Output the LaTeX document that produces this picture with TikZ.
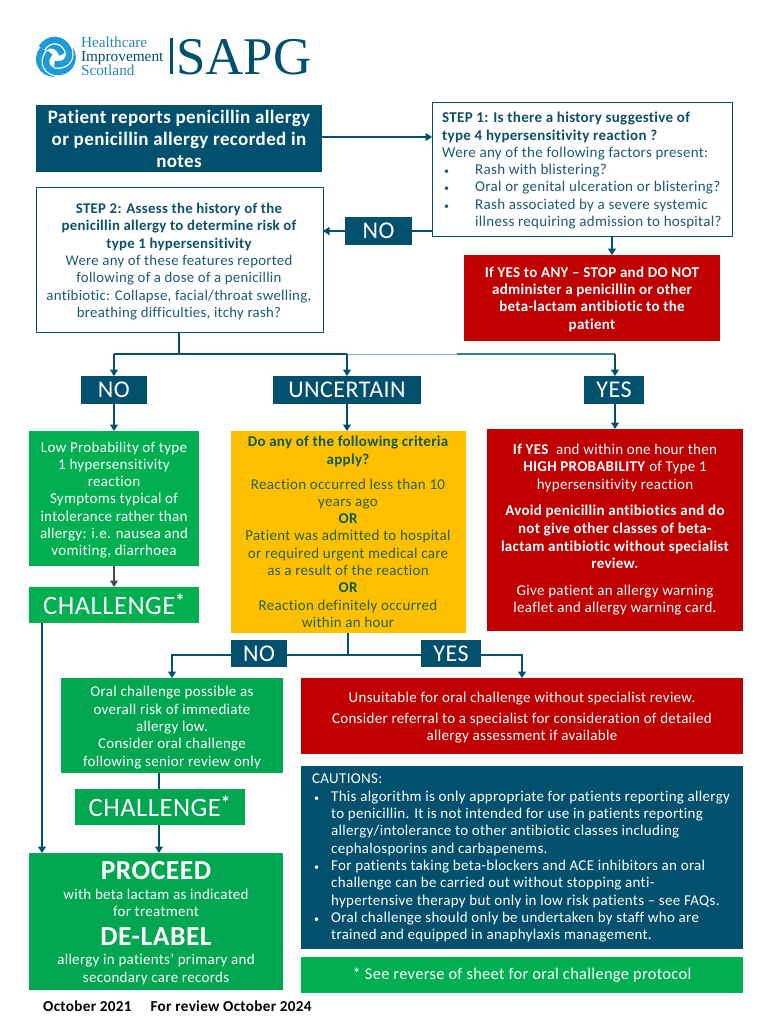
\documentclass[tikz,border=0pt]{standalone}
\usepackage{fontspec}
\setmainfont{Carlito}[LetterSpace=2,Ligatures=NoCommon]
\newfontfamily\logofont{Liberation Serif}
\usetikzlibrary{arrows.meta}
\definecolor{teal}{HTML}{00506E}
\definecolor{ink}{HTML}{1C5A72}
\definecolor{inkb}{HTML}{0F5068}
\definecolor{gr}{HTML}{00B050}
\definecolor{grd}{HTML}{00A650}
\definecolor{amb}{HTML}{FFC000}
\definecolor{ambink}{HTML}{2A6238}
\definecolor{ambinkb}{HTML}{0F5A4C}
\definecolor{rd}{HTML}{C00000}
\definecolor{sky}{HTML}{1E9AD8}
\definecolor{logob}{HTML}{2A86B4}
\definecolor{pale}{HTML}{7FAABC}
\tikzset{
 x=1pt,y=-1pt,
 flow/.style={draw=teal,line width=1.3pt,-{Triangle[length=6.5pt,width=8pt]}},
 plain/.style={draw=teal,line width=1.3pt},
 box/.style={inner sep=0pt,outer sep=0pt,anchor=north west,align=center},
 body/.style={font=\fontsize{15}{17.3}\selectfont,align=center,anchor=center,inner sep=0pt},
 lab/.style={body,text=white,font=\fontsize{24}{26}\selectfont},
 chal/.style={body,text=white,font=\fontsize{26.5}{30}\selectfont},
 big/.style={body,text=white,font=\bfseries\fontsize{27.5}{30}\selectfont},
}
\newcommand{\bx}[6]{\node[box,minimum width=#3-#1,minimum height=#4-#2,#5] (#6) at (#1,#2) {};}
\newcommand{\blt}[1]{\mbox{\hspace{2pt}\makebox[#1][l]{\fontsize{10}{17.3}\selectfont •}}}
\newcommand{\ind}[1]{\mbox{\hspace{#1}}}
\newcommand{\chalstar}{\raisebox{7pt}{\fontsize{19}{19}\selectfont\bfseries *}}
\begin{document}
\begin{tikzpicture}
\useasboundingbox (0,0) rectangle (768,1024);
\fill[white] (0,0) rectangle (768,1024);
% logo
\foreach \a in {0,120,240,0}{
\begin{scope}[shift={(55.5,57)},rotate=\a]
  \draw[white,line width=9pt] (-14,-9) .. controls (-8,-20) and (8,-20) .. (13,-7) .. controls (16,3) and (8,9) .. (-1,7);
  \draw[sky,line width=6.5pt] (-14,-9) .. controls (-8,-20) and (8,-20) .. (13,-7) .. controls (16,3) and (8,9) .. (-1,7);
\end{scope}}
\node[box,anchor=west,text=logob,font=\logofont\fontsize{15.3}{13.6}\selectfont,align=left] (hi) at (81,56.5) {Healthcare\\{\color{teal}Improvement}\\Scotland};
\fill[teal] (170,38) rectangle (173,74);
\node[box,anchor=west,text=teal,font=\logofont\fontsize{53}{53}\selectfont] (sapg) at (176,57) {SAPG};
% boxes
\bx{36}{105}{322}{172}{fill=teal}{head}
\bx{36}{188}{323}{332}{draw=teal,line width=1pt}{stwo}
\bx{432}{103}{732}{236}{draw=teal,line width=1pt}{sone}
\bx{464}{255}{720}{341}{fill=rd}{redone}
\bx{345}{217}{412}{245}{fill=teal}{noone}
\bx{81}{376}{146.5}{404}{fill=teal}{notwo}
\bx{273}{376}{421}{404}{fill=teal}{unc}
\bx{584}{376}{644}{404}{fill=teal}{yesone}
\bx{29}{431}{199}{566}{fill=gr}{low}
\bx{29}{587}{199}{623}{fill=gr}{chone}
\bx{231}{431}{466}{633}{fill=amb}{amber}
\bx{487}{429}{743}{631}{fill=rd}{redbig}
\bx{231}{640}{287}{667}{fill=teal}{nothree}
\bx{421}{640}{481}{667}{fill=teal}{yestwo}
\bx{61}{678}{283}{773}{fill=grd}{oral}
\bx{75}{789}{245}{825}{fill=grd}{chtwo}
\bx{29}{853}{283}{990}{fill=grd}{proceed}
\bx{301}{678}{743}{754}{fill=rd}{redtwo}
\bx{301}{766}{743}{949}{fill=teal}{cautions}
\bx{301}{957}{743}{993}{fill=gr}{note}
% coordinates
\coordinate (j) at (179,354);
\coordinate (jl) at (114,354);
\coordinate (jm) at (347,354);
\coordinate (jp) at (457,354);
\coordinate (jr) at (615,354);
\coordinate (k) at (348,655);
\coordinate (kl) at (172,655);
\coordinate (kr) at (522,655);
% connectors
\draw[flow] (head.east|-0,137) -- (sone.west|-0,137);
\draw[plain] (sone.west|-0,231) -- (noone.east|-0,231);
\draw[flow] (noone.west|-0,231) -- (stwo.east|-0,231);
\draw[flow] (612,236) -- (612,255);
\draw[plain] (179,332) -- (j);
\draw[plain] (jl) -- (jm);
\draw[draw=pale,line width=1pt] (jm) -- (jp);
\draw[draw=teal!75,line width=1.1pt] (jp) -- (jr);
\draw[flow] (jl) -- (114,376);
\draw[flow] (jm) -- (347,376);
\draw[flow] (jr) -- (615,376);
\draw[flow] (114,404) -- (114,431);
\draw[flow] (347,404) -- (347,431);
\draw[flow] (615,404) -- (615,429);
\draw[flow,draw=black!70] (114,566) -- (114,587);
\draw[flow] (42,623) -- (42,853);
\draw[plain] (348,633) -- (k);
\draw[plain] (nothree.east|-k) -- (yestwo.west|-k);
\draw[flow] (yestwo.east|-k) -- (kr) -- (522,678);
\draw[flow] (nothree.west|-k) -- (kl) -- (172,678);
\draw[plain] (159,773) -- (159,789);
\draw[flow] (159,825) -- (159,853);
% labels
\node[body,text=white,font=\bfseries\fontsize{19}{22.2}\selectfont] (thead) at (179,139) {Patient reports penicillin allergy\\or penicillin allergy recorded in\\notes};
\node[body,text=ink,font=\fontsize{14.8}{17.4}\selectfont] (tstwo) at (179,261.5) {{\color{inkb}\bfseries STEP 2: Assess the history of the}\\{\color{inkb}\bfseries penicillin allergy to determine risk of}\\{\color{inkb}\bfseries type 1 hypersensitivity}\\Were any of these features reported\\following of a dose of a penicillin\\antibiotic: Collapse, facial/throat swelling,\\breathing difficulties, itchy rash?};
\node[body,text=ink,align=left,anchor=north west] (tsone) at (442,112) {{\color{inkb}\bfseries STEP 1: Is there a history suggestive of}\\{\color{inkb}\bfseries type 4 hypersensitivity reaction ?}\\Were any of the following factors present:\\\blt{31pt}Rash with blistering?\\\blt{31pt}Oral or genital ulceration or blistering?\\\blt{31pt}Rash associated by a severe systemic\\\ind{33pt}illness requiring admission to hospital?};
\node[body,text=white,font=\bfseries\fontsize{15}{17.3}\selectfont] (tredone) at (592,299) {If YES to ANY – STOP and DO NOT\\administer a penicillin or other\\beta-lactam antibiotic to the\\patient};
\node[lab] (tnoone) at (noone.center) {NO};
\node[lab] (tnotwo) at (notwo.center) {NO};
\node[lab] (tunc) at (unc.center) {UNCERTAIN};
\node[lab] (tyesone) at (yesone.center) {YES};
\node[lab] (tnothree) at (nothree.center) {NO};
\node[lab] (tyestwo) at (yestwo.center) {YES};
\node[body,text=white] (tlow) at (114,500) {Low Probability of type\\1 hypersensitivity\\reaction\\Symptoms typical of\\intolerance rather than\\allergy: i.e. nausea and\\vomiting, diarrhoea};
\node[chal] (tchone) at (114,604.5) {CHALLENGE\chalstar};
\node[chal] (tchtwo) at (159.5,806.5) {CHALLENGE\chalstar};
\node[body,text=ambink] (tamber) at (348,532) {{\color{ambinkb}\bfseries Do any of the following criteria}\\{\color{ambinkb}\bfseries apply?}\\[7.5pt]Reaction occurred less than 10\\years ago\\{\color{ambinkb}\bfseries OR}\\Patient was admitted to hospital\\or required urgent medical care\\as a result of the reaction\\{\color{ambinkb}\bfseries OR}\\Reaction definitely occurred\\within an hour};
\node[body,text=white,font=\fontsize{15}{17.7}\selectfont] (tredbig) at (615,529.5) {\textbf{If YES } and within one hour then\\\textbf{HIGH PROBABILITY} of Type 1\\hypersensitivity reaction\\[8.5pt]\textbf{Avoid penicillin antibiotics and do}\\\textbf{not give other classes of beta-}\\\textbf{lactam antibiotic without specialist}\\\textbf{review.}\\[8.5pt]Give patient an allergy warning\\leaflet and allergy warning card.};
\node[body,text=white] (toral) at (172,727.5) {Oral challenge possible as\\overall risk of immediate\\allergy low.\\Consider oral challenge\\following senior review only};
\node[big] (tproceed) at (156,870.5) {PROCEED};
\node[body,text=white] (tbeta) at (156,903) {with beta lactam as indicated\\for treatment};
\node[big] (tdelabel) at (156,937) {DE-LABEL};
\node[body,text=white] (tallergy) at (156,969.5) {allergy in  patients’ primary and\\secondary care records};
\node[body,text=white] (tredtwo) at (522,717.5) {Unsuitable for oral challenge without specialist review.\\[4pt]Consider referral to a specialist for consideration of detailed\\allergy assessment if available};
\node[body,text=white,align=left,anchor=north west] (tcaut) at (312,774) {CAUTIONS:\\\blt{17pt}This algorithm is only appropriate for patients reporting allergy\\\ind{19pt}to penicillin. It is not intended for use in patients reporting\\\ind{19pt}allergy/intolerance to other antibiotic classes including\\\ind{19pt}cephalosporins and carbapenems.\\\blt{17pt}For patients taking beta-blockers and ACE inhibitors an oral\\\ind{19pt}challenge can be carried out without stopping anti-\\\ind{19pt}hypertensive therapy but only in low risk patients – see FAQs.\\\blt{17pt}Oral challenge should only be undertaken by staff who are\\\ind{19pt}trained and equipped in anaphylaxis management.};
\node[body,text=white,font=\fontsize{16.4}{19}\selectfont] (tnote) at (522,975) {* See reverse of sheet for oral challenge protocol};
\node[body,anchor=west,font=\bfseries\fontsize{15.2}{17}\selectfont] (foot) at (43,1006.5) {October 2021\hspace{19pt}For review October 2024};
\end{tikzpicture}
\end{document}
